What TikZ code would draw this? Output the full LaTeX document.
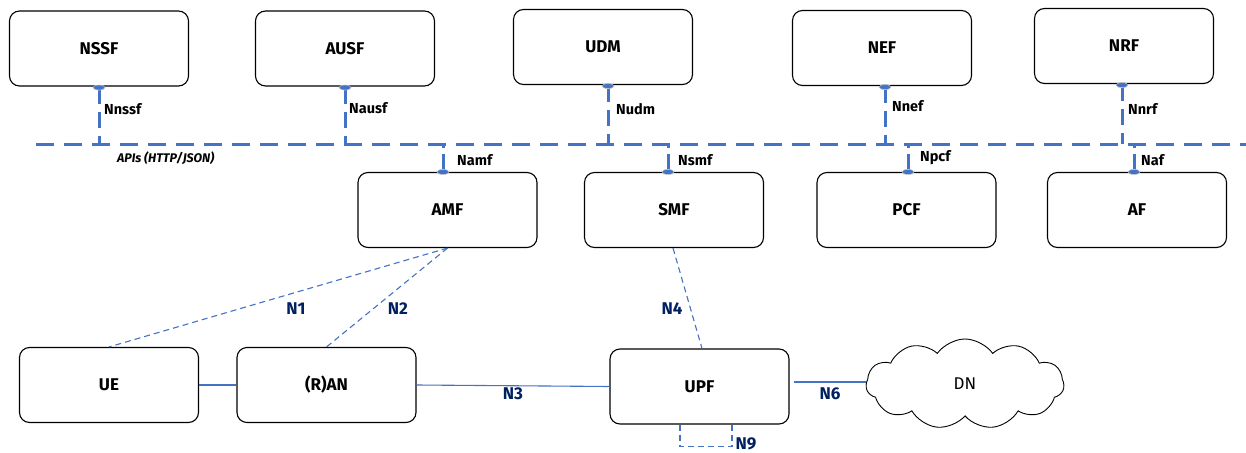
\documentclass[tikz,border=0pt]{standalone}
\usepackage{fontspec}
\setmainfont{Fira Sans}
\usetikzlibrary{shapes.symbols,calc}
\definecolor{ifblue}{RGB}{68,114,196}
\definecolor{refnavy}{RGB}{0,32,96}

\begin{document}
\begin{tikzpicture}[x=1pt,y=-1pt,
  nf/.style={draw=black, line width=1.1pt, rounded corners=10pt,
    minimum width=179pt, minimum height=75pt, inner sep=0pt,
    font=\bfseries\fontsize{17}{19}\selectfont},
  bus/.style={draw=ifblue, line width=3pt, dash pattern=on 18pt off 10pt},
  svc/.style={font=\bfseries\fontsize{14.5}{16}\selectfont, anchor=west, inner sep=0pt},
  port/.style={fill=ifblue, draw=gray!50, line width=0.6pt},
  refpt/.style={draw=ifblue, line width=1.1pt, dash pattern=on 6pt off 4pt},
  link/.style={draw=ifblue, line width=1.1pt},
  reflbl/.style={text=refnavy, inner sep=0pt, font=\bfseries\fontsize{17}{19}\selectfont}]

\useasboundingbox (0,0) rectangle (1246,452);

% control plane functions on top
\node[nf] (nssf) at (99,48.5)   {NSSF};
\node[nf] (ausf) at (345,48.5)  {AUSF};
\node[nf] (udm)  at (603,47)    {UDM};
\node[nf] (nef)  at (882,48)    {NEF};
\node[nf] (nrf)  at (1124,46)   {NRF};

% control plane functions below the bus
\node[nf] (amf) at (447.5,210)  {AMF};
\node[nf] (smf) at (674,210)    {SMF};
\node[nf] (pcf) at (906.5,210)  {PCF};
\node[nf] (af)  at (1137,210)   {AF};

% user plane
\node[nf] (ue)  at (109,385)    {UE};
\node[nf] (ran) at (326.5,385)  {(R)AN};
\node[nf] (upf) at (699.5,386.5){UPF};
\node[cloud, cloud puffs=11, cloud puff arc=110, aspect=2.2, draw=black,
      line width=0.9pt, minimum width=198pt, minimum height=90pt,
      font=\fontsize{17}{19}\selectfont] (dn) at (965,384) {DN};

% service based bus
\coordinate (busL) at (36,144);
\coordinate (busR) at (1246,144);
\draw[bus] (busL) -- (busR);
\node[anchor=west, inner sep=0pt, font=\bfseries\itshape\fontsize{12.5}{14}\selectfont]
  (api) at (117,158) {APIs (HTTP/JSON)};

% service interface ports (upper row)
\coordinate (pnssf) at ($(nssf.south)+(0,1)$);
\coordinate (pausf) at ($(ausf.south)+(0,1)$);
\coordinate (pudm)  at ($(udm.south)+(5,1)$);
\coordinate (pnef)  at ($(nef.south)+(3,1)$);
\coordinate (pnrf)  at ($(nrf.south)+(-2,1)$);
\foreach \p in {pnssf,pausf,pudm,pnef,pnrf}{
  \draw[bus, dash pattern=on 16pt off 8pt] (\p) -- (\p |- busL);
  \filldraw[port] (\p) ellipse (6pt and 2.5pt);
}
\node[svc] (lnssf) at (104,109) {Nnssf};
\node[svc] (lausf) at (349,108) {Nausf};
\node[svc] (ludm)  at (616,109) {Nudm};
\node[svc] (lnef)  at (892,106) {Nnef};
\node[svc] (lnrf)  at (1128,109){Nnrf};

% service interface ports (lower row)
\coordinate (pamf) at ($(amf.north)+(-4.5,0)$);
\coordinate (psmf) at ($(smf.north)+(-6,0)$);
\coordinate (ppcf) at ($(pcf.north)+(1.5,0)$);
\coordinate (paf)  at ($(af.north)+(-3,0)$);
\foreach \p in {pamf,psmf,ppcf,paf}{
  \draw[bus, dash pattern=on 18pt off 6pt] (\p) -- (\p |- busL);
  \filldraw[port] (\p) ellipse (6pt and 2.5pt);
}
\node[svc] (lamf) at (457,160) {Namf};
\node[svc] (lsmf) at (678,160) {Nsmf};
\node[svc] (lpcf) at (920,158) {Npcf};
\node[svc] (laf)  at (1141,160){Naf};

% reference points
\draw[refpt] (amf.south) -- (ue.north);
\draw[refpt] (amf.south) -- (ran.north);
\draw[refpt] ($(smf.south)+(-1,0)$) -- ($(upf.north)+(2.5,0)$);
\draw[link] (ue.east) -- (ran.west);
\draw[link] (ran.east) -- (upf.west);
\draw[link] ($(upf.east)+(4,-4.5)$) -- (dn.west |- 0,382);
\draw[refpt] ($(upf.south)+(-19.5,0)$) -- ++(0,22) -| ($(upf.south)+(32.5,0)$);

\node[reflbl] (n1) at (296,309) {N1};
\node[reflbl] (n2) at (398,309) {N2};
\node[reflbl] (n4) at (672,309) {N4};
\node[reflbl] (n3) at (513,394) {N3};
\node[reflbl] (n6) at (830,394) {N6};
\node[reflbl] (n9) at (746,444) {N9};
\end{tikzpicture}
\end{document}
